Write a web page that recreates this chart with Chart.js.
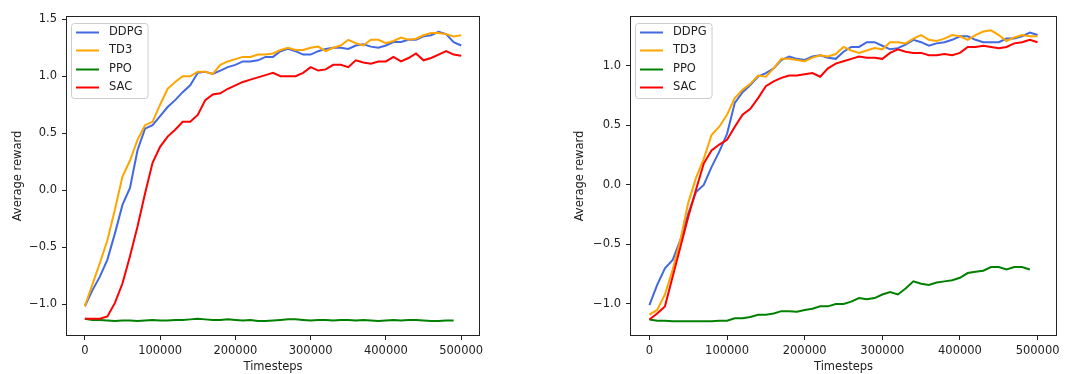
<!DOCTYPE html>
<html>
<head>
<meta charset="utf-8">
<script src="https://cdn.jsdelivr.net/npm/chart.js@4"></script>
<style>
  body { margin: 0; background: #fff; }
  #wrap { position: relative; width: 1066px; height: 374px; }
  canvas { position: absolute; top: 0; }
</style>
</head>
<body>
<div id="wrap">
  <canvas id="leftChart" width="533" height="374" style="left:0"></canvas>
  <canvas id="rightChart" width="533" height="374" style="left:533px"></canvas>
</div>
<script>
'use strict';
// x values (timesteps), one every 10000
const timesteps = [0, 10000, 20000, 30000, 40000, 50000, 60000, 70000, 80000, 90000,
  100000, 110000, 120000, 130000, 140000, 150000, 160000, 170000, 180000, 190000,
  200000, 210000, 220000, 230000, 240000, 250000, 260000, 270000, 280000, 290000,
  300000, 310000, 320000, 330000, 340000, 350000, 360000, 370000, 380000, 390000,
  400000, 410000, 420000, 430000, 440000, 450000, 460000, 470000, 480000, 490000, 500000];

const seriesNames = ['DDPG', 'TD3', 'PPO', 'SAC'];
const seriesColors = ['#4169e1', '#ffa500', '#008000', '#ff0000'];

const xTicks = [0, 100000, 200000, 300000, 400000, 500000];
const leftYTicks = [-1.0, -0.5, 0.0, 0.5, 1.0, 1.5];
const rightYTicks = [-1.0, -0.5, 0.0, 0.5, 1.0];

// left panel
const leftDDPG = [-1.02, -0.88, -0.76, -0.61, -0.38, -0.13, 0.02, 0.35, 0.54, 0.57,
  0.65, 0.73, 0.79, 0.86, 0.92, 1.03, 1.04, 1.02, 1.05, 1.08,
  1.10, 1.13, 1.13, 1.14, 1.17, 1.17, 1.22, 1.24, 1.22, 1.19,
  1.19, 1.22, 1.24, 1.25, 1.25, 1.24, 1.27, 1.28, 1.26, 1.25,
  1.27, 1.30, 1.30, 1.32, 1.32, 1.35, 1.36, 1.39, 1.37, 1.30, 1.27];
const leftTD3 = [-1.02, -0.83, -0.64, -0.44, -0.17, 0.12, 0.26, 0.44, 0.57, 0.60,
  0.75, 0.89, 0.95, 1.00, 1.00, 1.04, 1.04, 1.02, 1.10, 1.13,
  1.15, 1.17, 1.17, 1.19, 1.19, 1.20, 1.23, 1.25, 1.23, 1.23,
  1.25, 1.26, 1.22, 1.25, 1.27, 1.32, 1.29, 1.27, 1.32, 1.32,
  1.29, 1.31, 1.34, 1.32, 1.33, 1.36, 1.38, 1.38, 1.37, 1.35, 1.36];
const leftPPO = [-1.13, -1.14, -1.14, -1.145, -1.15, -1.145, -1.145, -1.15, -1.145, -1.14,
  -1.145, -1.145, -1.14, -1.14, -1.135, -1.13, -1.135, -1.14, -1.14, -1.135,
  -1.14, -1.145, -1.14, -1.15, -1.15, -1.145, -1.14, -1.135, -1.135, -1.14,
  -1.145, -1.14, -1.14, -1.145, -1.14, -1.14, -1.145, -1.14, -1.145, -1.15,
  -1.145, -1.14, -1.145, -1.14, -1.14, -1.145, -1.15, -1.15, -1.145, -1.145];
const leftSAC = [-1.13, -1.13, -1.13, -1.11, -0.99, -0.82, -0.58, -0.32, -0.03, 0.24,
  0.38, 0.47, 0.53, 0.60, 0.60, 0.66, 0.79, 0.84, 0.85, 0.89,
  0.92, 0.95, 0.97, 0.99, 1.01, 1.03, 1.00, 1.00, 1.00, 1.03,
  1.08, 1.05, 1.06, 1.10, 1.10, 1.08, 1.14, 1.12, 1.11, 1.13,
  1.13, 1.17, 1.13, 1.16, 1.20, 1.14, 1.16, 1.19, 1.22, 1.19, 1.18];

// right panel
const rightDDPG = [-1.01, -0.84, -0.70, -0.63, -0.46, -0.24, -0.06, 0.00, 0.15, 0.28,
  0.43, 0.69, 0.78, 0.84, 0.91, 0.94, 0.98, 1.05, 1.08, 1.06,
  1.05, 1.08, 1.09, 1.07, 1.06, 1.12, 1.16, 1.16, 1.20, 1.20,
  1.17, 1.14, 1.15, 1.18, 1.22, 1.20, 1.17, 1.19, 1.20, 1.22,
  1.25, 1.25, 1.22, 1.20, 1.20, 1.20, 1.23, 1.23, 1.25, 1.28, 1.26];
const rightTD3 = [-1.09, -1.05, -0.92, -0.71, -0.46, -0.15, 0.06, 0.22, 0.42, 0.49,
  0.59, 0.73, 0.80, 0.85, 0.92, 0.91, 0.98, 1.06, 1.06, 1.05,
  1.04, 1.07, 1.09, 1.08, 1.10, 1.16, 1.13, 1.11, 1.13, 1.15,
  1.14, 1.20, 1.20, 1.19, 1.23, 1.26, 1.22, 1.21, 1.23, 1.26,
  1.25, 1.22, 1.26, 1.29, 1.30, 1.26, 1.21, 1.24, 1.26, 1.25, 1.25];
const rightPPO = [-1.13, -1.14, -1.14, -1.145, -1.145, -1.145, -1.145, -1.145, -1.145, -1.14,
  -1.14, -1.12, -1.12, -1.11, -1.09, -1.09, -1.08, -1.06, -1.06, -1.065,
  -1.05, -1.04, -1.02, -1.02, -1.00, -1.00, -0.98, -0.95, -0.96, -0.95,
  -0.92, -0.90, -0.92, -0.87, -0.81, -0.83, -0.84, -0.82, -0.81, -0.80,
  -0.78, -0.74, -0.73, -0.72, -0.69, -0.69, -0.71, -0.69, -0.69, -0.71];
const rightSAC = [-1.13, -1.08, -1.02, -0.77, -0.52, -0.27, -0.04, 0.18, 0.29, 0.34,
  0.38, 0.49, 0.59, 0.64, 0.73, 0.83, 0.87, 0.90, 0.92, 0.92,
  0.93, 0.94, 0.91, 0.98, 1.02, 1.04, 1.06, 1.08, 1.07, 1.07,
  1.06, 1.11, 1.14, 1.12, 1.11, 1.11, 1.09, 1.09, 1.10, 1.09,
  1.11, 1.16, 1.16, 1.17, 1.16, 1.15, 1.16, 1.19, 1.20, 1.22, 1.20];

const FONT = 'DejaVu Sans';
const FSIZE = 11.5;
const INK = '#222222';

function toPoints(values) {
  return values.map((v, i) => ({ x: timesteps[i], y: v }));
}

function fmtY(v) {
  return (v < 0 ? '\u2212' : '') + Math.abs(v).toFixed(1);
}

// matplotlib style frame + legend inside the axes
const boxLegend = {
  id: 'boxLegend',
  afterDatasetsDraw(chart) {
    const ctx = chart.ctx;
    const a = chart.chartArea;
    ctx.save();
    ctx.strokeStyle = INK;
    ctx.lineWidth = 1;
    ctx.strokeRect(Math.round(a.left) + 0.5, Math.round(a.top) + 0.5,
      Math.round(a.width) - 1, Math.round(a.height) - 1);

    ctx.font = FSIZE + 'px "' + FONT + '"';
    const textW = Math.max(...seriesNames.map(n => ctx.measureText(n).width));
    const x = Math.round(a.left) + 5, y = Math.round(a.top) + 7;
    const w = 38 + textW + 5, h = 75;
    ctx.beginPath();
    ctx.roundRect(x + 0.5, y + 0.5, w, h, 3);
    ctx.fillStyle = 'rgba(255,255,255,0.8)';
    ctx.fill();
    ctx.strokeStyle = '#cccccc';
    ctx.stroke();
    seriesNames.forEach((n, i) => {
      const ry = Math.round(y + 9 + i * 18.3) + 0.5;
      ctx.strokeStyle = seriesColors[i];
      ctx.lineWidth = 2;
      ctx.beginPath();
      ctx.moveTo(x + 5, ry);
      ctx.lineTo(x + 28, ry);
      ctx.stroke();
      ctx.fillStyle = INK;
      ctx.textBaseline = 'middle';
      ctx.fillText(n, x + 38, ry);
    });
    ctx.restore();
  }
};

function makeChart(id, series, yTicks, yMin, yMax, padLeft, padRight, yAxisWidth) {
  const datasets = series.map((vals, i) => ({
    label: seriesNames[i],
    data: toPoints(vals),
    borderColor: seriesColors[i],
    backgroundColor: seriesColors[i],
    borderWidth: 2,
    pointRadius: 0,
    tension: 0,
    order: series.length - i
  }));
  return new Chart(document.getElementById(id), {
    type: 'line',
    data: { datasets: datasets },
    plugins: [boxLegend],
    options: {
      responsive: false,
      animation: false,
      devicePixelRatio: 1,
      layout: { padding: { left: padLeft, right: padRight, top: 16, bottom: 0.5 } },
      plugins: { legend: { display: false }, tooltip: { enabled: false } },
      scales: {
        x: {
          type: 'linear',
          min: -25000,
          max: 525000,
          afterBuildTicks: s => { s.ticks = xTicks.map(v => ({ value: v })); },
          afterFit: s => { s.height = 37.5; },
          ticks: {
            color: INK, font: { family: FONT, size: FSIZE }, padding: 4,
            maxRotation: 0, autoSkip: false,
            callback: v => String(v)
          },
          grid: { display: true, drawOnChartArea: false, drawTicks: true, tickLength: 4, color: INK },
          border: { display: false },
          title: { display: true, text: 'Timesteps', color: INK, padding: 0,
            font: { family: FONT, size: FSIZE } }
        },
        y: {
          type: 'linear',
          min: yMin,
          max: yMax,
          afterBuildTicks: s => { s.ticks = yTicks.map(v => ({ value: v })); },
          afterFit: s => { s.width = yAxisWidth; },
          ticks: {
            color: INK, font: { family: FONT, size: FSIZE }, padding: 5,
            autoSkip: false,
            callback: v => fmtY(v)
          },
          grid: { display: true, drawOnChartArea: false, drawTicks: true, tickLength: 4, color: INK },
          border: { display: false },
          title: { display: true, text: 'Average reward', color: INK, padding: 0,
            font: { family: FONT, size: FSIZE } }
        }
      }
    }
  });
}

makeChart('leftChart', [leftDDPG, leftTD3, leftPPO, leftSAC], leftYTicks,
  -1.281, 1.529, 11.1, 53, 54.9);
makeChart('rightChart', [rightDDPG, rightTD3, rightPPO, rightSAC], rightYTicks,
  -1.269, 1.42, 40.1, 9, 56.9);
</script>
</body>
</html>
